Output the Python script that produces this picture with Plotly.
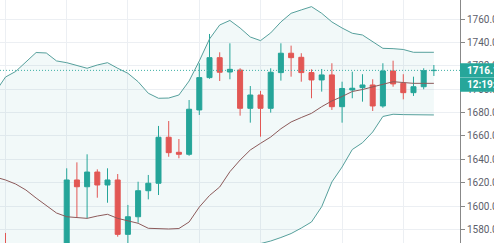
import plotly.graph_objects as go

# candle index positions (x axis = bar index)
idx = [-6] + list(range(0, 37))
opens = [1565.0, 1560.0, 1622.3, 1616.5, 1629.1, 1618.0, 1622.3, 1575.7, 1590.8, 1613.1, 1619.5,
         1658.9, 1646.0, 1644.3, 1682.3, 1710.0, 1727.1, 1714.8, 1716.5, 1683.7, 1695.1,
         1683.7, 1714.3, 1730.9, 1727.4, 1714.3, 1708.0, 1712.3, 1685.1, 1699.4, 1701.4,
         1703.7, 1685.7, 1715.7, 1705.1, 1697.1, 1702.2, 1716.0]
highs = [1576.9, 1632.3, 1637.4, 1644.3, 1631.4, 1632.3, 1627.4, 1600.9, 1620.8, 1626.6, 1668.6,
         1672.8, 1657.4, 1690.8, 1722.3, 1747.4, 1731.7, 1739.4, 1718.0, 1702.8, 1698.6,
         1718.0, 1739.4, 1737.4, 1730.9, 1717.1, 1717.4, 1722.3, 1706.5, 1715.1, 1712.9,
         1708.6, 1722.3, 1724.5, 1712.9, 1710.8, 1718.0, 1720.8]
lows = [1540.0, 1555.0, 1590.3, 1589.5, 1607.1, 1602.8, 1573.7, 1566.0, 1585.7, 1605.7, 1609.4,
        1642.2, 1640.9, 1643.0, 1678.0, 1709.0, 1707.1, 1708.6, 1677.4, 1671.4, 1659.4,
        1680.0, 1707.4, 1710.8, 1706.5, 1692.3, 1698.0, 1682.3, 1671.4, 1692.3, 1689.4,
        1681.4, 1684.2, 1702.2, 1691.4, 1694.3, 1700.0, 1711.4]
closes = [1550.0, 1622.3, 1616.5, 1629.1, 1618.0, 1622.3, 1575.7, 1590.8, 1613.1, 1619.5, 1658.9,
          1645.7, 1644.3, 1682.9, 1710.0, 1727.1, 1714.6, 1717.1, 1683.7, 1695.1, 1683.7,
          1714.6, 1730.9, 1727.1, 1714.3, 1708.0, 1712.3, 1685.1, 1700.7, 1700.9, 1703.7,
          1685.7, 1715.7, 1704.6, 1697.1, 1702.2, 1716.0, 1716.19]

band_idx = list(range(-7, 37))
upper = [1697.7, 1710.5, 1715.3, 1723.0, 1731.5, 1731.1, 1724.3,
         1722.8, 1720.2, 1718.0, 1720.8, 1722.8, 1718.0, 1713.7, 1706.5, 1696.6, 1692.3,
         1692.5, 1695.1, 1707.1, 1724.3, 1743.1, 1755.1, 1759.0, 1752.5, 1744.8, 1741.7,
         1748.3, 1757.7, 1765.1, 1768.0, 1770.8, 1765.1, 1757.7, 1752.5, 1748.0, 1746.5,
         1740.5, 1735.1, 1734.8, 1734.1, 1731.7, 1731.7, 1731.7]
basis = [1624.8, 1622.3, 1618.8, 1613.7, 1606.8, 1600.0, 1594.0,
         1590.8, 1590.1, 1589.4, 1591.4, 1592.9, 1589.4, 1587.1, 1585.2, 1580.9, 1580.3,
         1580.3, 1580.7, 1586.3, 1599.1, 1609.0, 1616.3, 1629.4, 1639.4, 1648.0, 1653.7,
         1659.1, 1666.2, 1672.0, 1675.8, 1679.4, 1685.1, 1690.0, 1693.8, 1698.1, 1699.8,
         1702.0, 1704.1, 1706.5, 1705.8, 1705.1, 1705.1, 1705.1]
lower = [1551.9, 1534.1, 1522.3, 1504.4, 1482.1, 1468.9, 1463.7,
         1458.8, 1460.0, 1460.8, 1462.0, 1463.0, 1460.8, 1460.5, 1463.9, 1465.2, 1468.3,
         1468.1, 1466.3, 1465.5, 1473.9, 1474.9, 1477.5, 1499.8, 1526.3, 1551.2, 1567.8,
         1570.0, 1573.0, 1576.4, 1581.1, 1586.3, 1599.4, 1620.6, 1633.4, 1648.4, 1654.2,
         1663.4, 1676.7, 1678.6, 1678.3, 1678.0, 1678.0, 1678.0]

last_price = 1716.19
price_text = "1716.19"
time_text = "12:19:15"
ytick_vals = [1580, 1600, 1620, 1640, 1660, 1680, 1700, 1720, 1740, 1760]
xgrid_vals = [-6, 0, 6, 13, 19, 27, 33]

GREEN = "#26a69a"
RED = "#ef5350"
BAND = "#56a09c"
BASIS = "#8c5a5a"

fig = go.Figure()
fig.add_trace(go.Scatter(x=band_idx, y=upper, mode="lines",
                         line=dict(color=BAND, width=1), hoverinfo="skip", showlegend=False))
fig.add_trace(go.Scatter(x=band_idx, y=lower, mode="lines", fill="tonexty",
                         fillcolor="rgba(38,150,154,0.06)",
                         line=dict(color=BAND, width=1), hoverinfo="skip", showlegend=False))
fig.add_trace(go.Scatter(x=band_idx, y=basis, mode="lines",
                         line=dict(color=BASIS, width=1), hoverinfo="skip", showlegend=False))
fig.add_trace(go.Candlestick(x=idx, open=opens, high=highs, low=lows, close=closes,
                             increasing=dict(line=dict(color=GREEN, width=1), fillcolor=GREEN),
                             decreasing=dict(line=dict(color=RED, width=1), fillcolor=RED),
                             whiskerwidth=0, showlegend=False))

# last price dotted line
fig.add_shape(type="line", xref="paper", yref="y", x0=0, x1=1, y0=last_price, y1=last_price,
              line=dict(color="#3fb0a5", width=1, dash="1px,2px"))

# price / countdown label boxes (outside plot, right side)
fig.add_shape(type="rect", xref="paper", yref="paper", x0=1.0, x1=1.1, y0=0.681, y1=0.7395,
              fillcolor=GREEN, line=dict(width=0), layer="above")
fig.add_shape(type="rect", xref="paper", yref="paper", x0=1.0, x1=1.1, y0=0.6226, y1=0.681,
              fillcolor=GREEN, line=dict(width=0), layer="above")
fig.add_shape(type="line", xref="paper", yref="paper", x0=1.0, x1=1.1, y0=0.681, y1=0.681,
              line=dict(color="#6cc4bb", width=1), layer="above")
fig.add_annotation(xref="paper", yref="paper", x=1.011, y=0.710, xanchor="left", yanchor="middle",
                   text="<b>" + price_text + "</b>", showarrow=False,
                   font=dict(family="Roboto", size=10, color="white"))
fig.add_annotation(xref="paper", yref="paper", x=1.011, y=0.652, xanchor="left", yanchor="middle",
                   text="<b>" + time_text + "</b>", showarrow=False,
                   font=dict(family="Roboto", size=10, color="white"))

fig.update_layout(
    width=494, height=243,
    margin=dict(l=0, r=34, t=0, b=0),
    paper_bgcolor="white", plot_bgcolor="white",
    template="none",
    showlegend=False,
    xaxis=dict(range=[-6.54, 38.56], rangeslider=dict(visible=False),
               tickvals=xgrid_vals, showticklabels=False, ticks="",
               showgrid=True, gridcolor="#eceff3", gridwidth=1, zeroline=False,
               showline=False, automargin=False, fixedrange=True),
    yaxis=dict(range=[1568.3, 1776.5], side="right", tickvals=ytick_vals,
               tickformat=".2f", ticks="outside", ticklen=4, tickcolor="#888",
               tickfont=dict(family="Roboto", size=10, color="#5d606b"),
               showgrid=True, gridcolor="#eceff3", gridwidth=1, zeroline=False,
               showline=True, linecolor="#888", linewidth=1, automargin=False),
)

fig.write_html("out.html")
